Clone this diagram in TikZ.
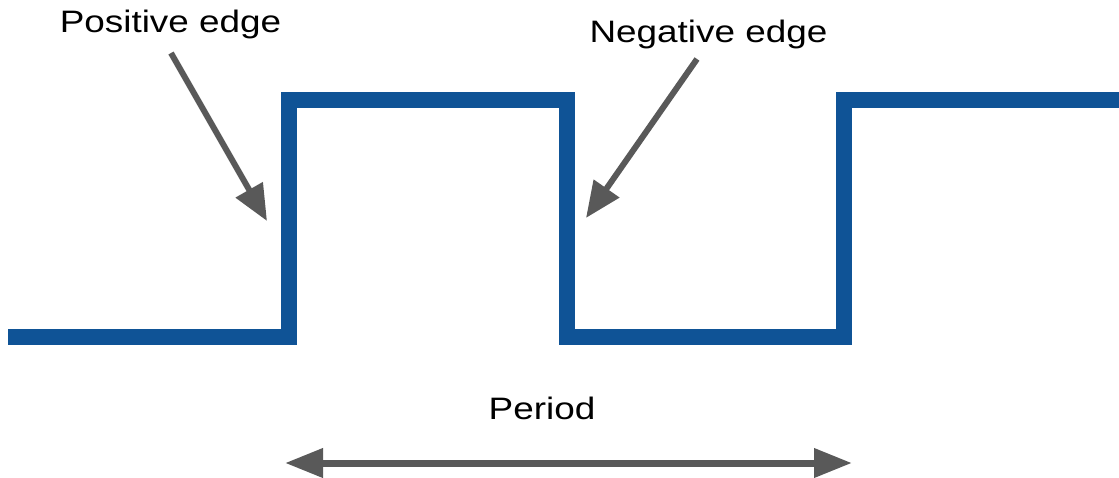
\documentclass[tikz,border=0pt]{standalone}
\usepackage{fontspec}
\setmainfont{Liberation Sans}
\usetikzlibrary{arrows.meta}
\definecolor{wave}{RGB}{15,83,150}
\definecolor{pointer}{RGB}{89,89,89}
\begin{document}
\begin{tikzpicture}[x=1pt,y=-1pt,
  signal/.style={draw=wave,line width=16pt,line join=miter},
  pointerline/.style={draw=pointer,line width=6pt,-{Triangle[length=36pt,width=30pt]}},
  periodline/.style={draw=pointer,line width=7pt,{Triangle[length=38pt,width=28pt]}-{Triangle[length=38pt,width=28pt]}},
  label/.style={anchor=base,inner sep=0pt,font=\fontsize{31}{37}\selectfont}]
\useasboundingbox (0,0) rectangle (1119,477);
% waveform
\coordinate (w0) at (8,337);
\coordinate (w1) at (289,337);
\coordinate (w2) at (289,100);
\coordinate (w3) at (567,100);
\coordinate (w4) at (567,337);
\coordinate (w5) at (844,337);
\coordinate (w6) at (844,100);
\coordinate (w7) at (1119,100);
\path[signal] (w0) -- (w1) -- (w2) -- (w3) -- (w4) -- (w5) -- (w6) -- (w7);
% labels
\node[label] (pos) at (170.5,32) {\scalebox{1.19}[1]{Positive edge}};
\node[label] (neg) at (708.5,42) {\scalebox{1.19}[1]{Negative edge}};
\node[label] (per) at (542,419) {\scalebox{1.19}[1]{Period}};
% arrows
\coordinate (ps) at (171,53);
\coordinate (pt) at (267,221);
\coordinate (ns) at (697,59);
\coordinate (nt) at (586,218);
\path[pointerline] (ps) -- (pt);
\path[pointerline] (ns) -- (nt);
\coordinate (pl) at (285,463);
\coordinate (pr) at (852,463);
\path[periodline] (pl) -- (pr);
\end{tikzpicture}
\end{document}
